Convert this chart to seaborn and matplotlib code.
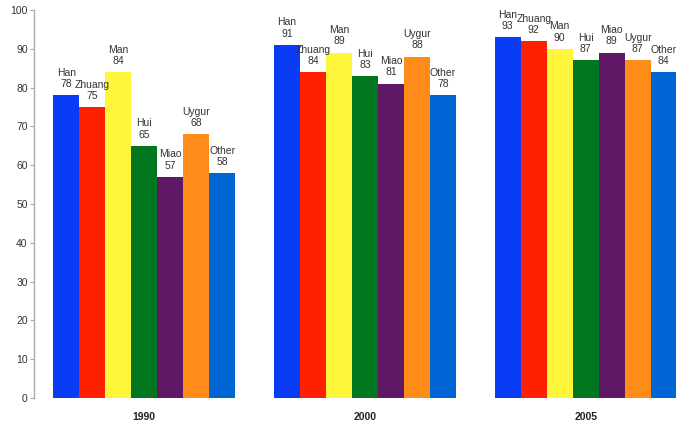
import pandas as pd
import seaborn as sns
import matplotlib.pyplot as plt

years = ['1990', '2000', '2005']
groups = ['Han', 'Zhuang', 'Man', 'Hui', 'Miao', 'Uygur', 'Other']
rates_1990 = [78, 75, 84, 65, 57, 68, 58]
rates_2000 = [91, 84, 89, 83, 81, 88, 78]
rates_2005 = [93, 92, 90, 87, 89, 87, 84]
colors = ['#0A3CF5', '#FF2000', '#FFF53A', '#00761E', '#5E1866', '#FF8C18', '#0066D6']

sns.set_style('white')
plt.rcParams['font.family'] = ['Liberation Sans', 'DejaVu Sans']

rows = []
for year, rates in zip(years, [rates_1990, rates_2000, rates_2005]):
    for g, r in zip(groups, rates):
        rows.append({'year': year, 'group': g, 'rate': r})
df = pd.DataFrame(rows)

fig = plt.figure(figsize=(6.76, 4.26), dpi=100)
ax = fig.add_axes([34 / 676, 28 / 426, (696 - 34) / 676, 388 / 426])

sns.barplot(data=df, x='year', y='rate', hue='group', hue_order=groups,
            order=years, palette=colors, width=0.824, gap=0, saturation=1,
            legend=False, linewidth=0, edgecolor='none', ax=ax)

# name + value above each bar
for g, container in zip(groups, ax.containers):
    for bar in container:
        h = bar.get_height()
        ax.annotate(f'{g}\n{h:.0f}', (bar.get_x() + bar.get_width() / 2, h),
                    xytext=(0, 4.5), textcoords='offset points',
                    ha='center', va='bottom', fontsize=7.5, color='#333333',
                    linespacing=1.15)

ax.set_xlim(-0.5, 2.5)
ax.set_ylim(0, 100)
ax.set_yticks(range(0, 101, 10))
ax.set_xlabel('')
ax.set_ylabel('')
for s in ['top', 'right', 'bottom']:
    ax.spines[s].set_visible(False)
ax.spines['left'].set_color('#AAAAAA')
ax.spines['left'].set_linewidth(1)
ax.tick_params(axis='y', left=True, length=3, width=0.8, color='#AAAAAA',
               pad=1.5, labelsize=7.5, labelcolor='#333333')
ax.tick_params(axis='x', bottom=False, pad=6.5, labelsize=7.5, labelcolor='#222222')
for lbl in ax.get_xticklabels():
    lbl.set_fontweight('bold')

fig.savefig('out.png', dpi=100)
